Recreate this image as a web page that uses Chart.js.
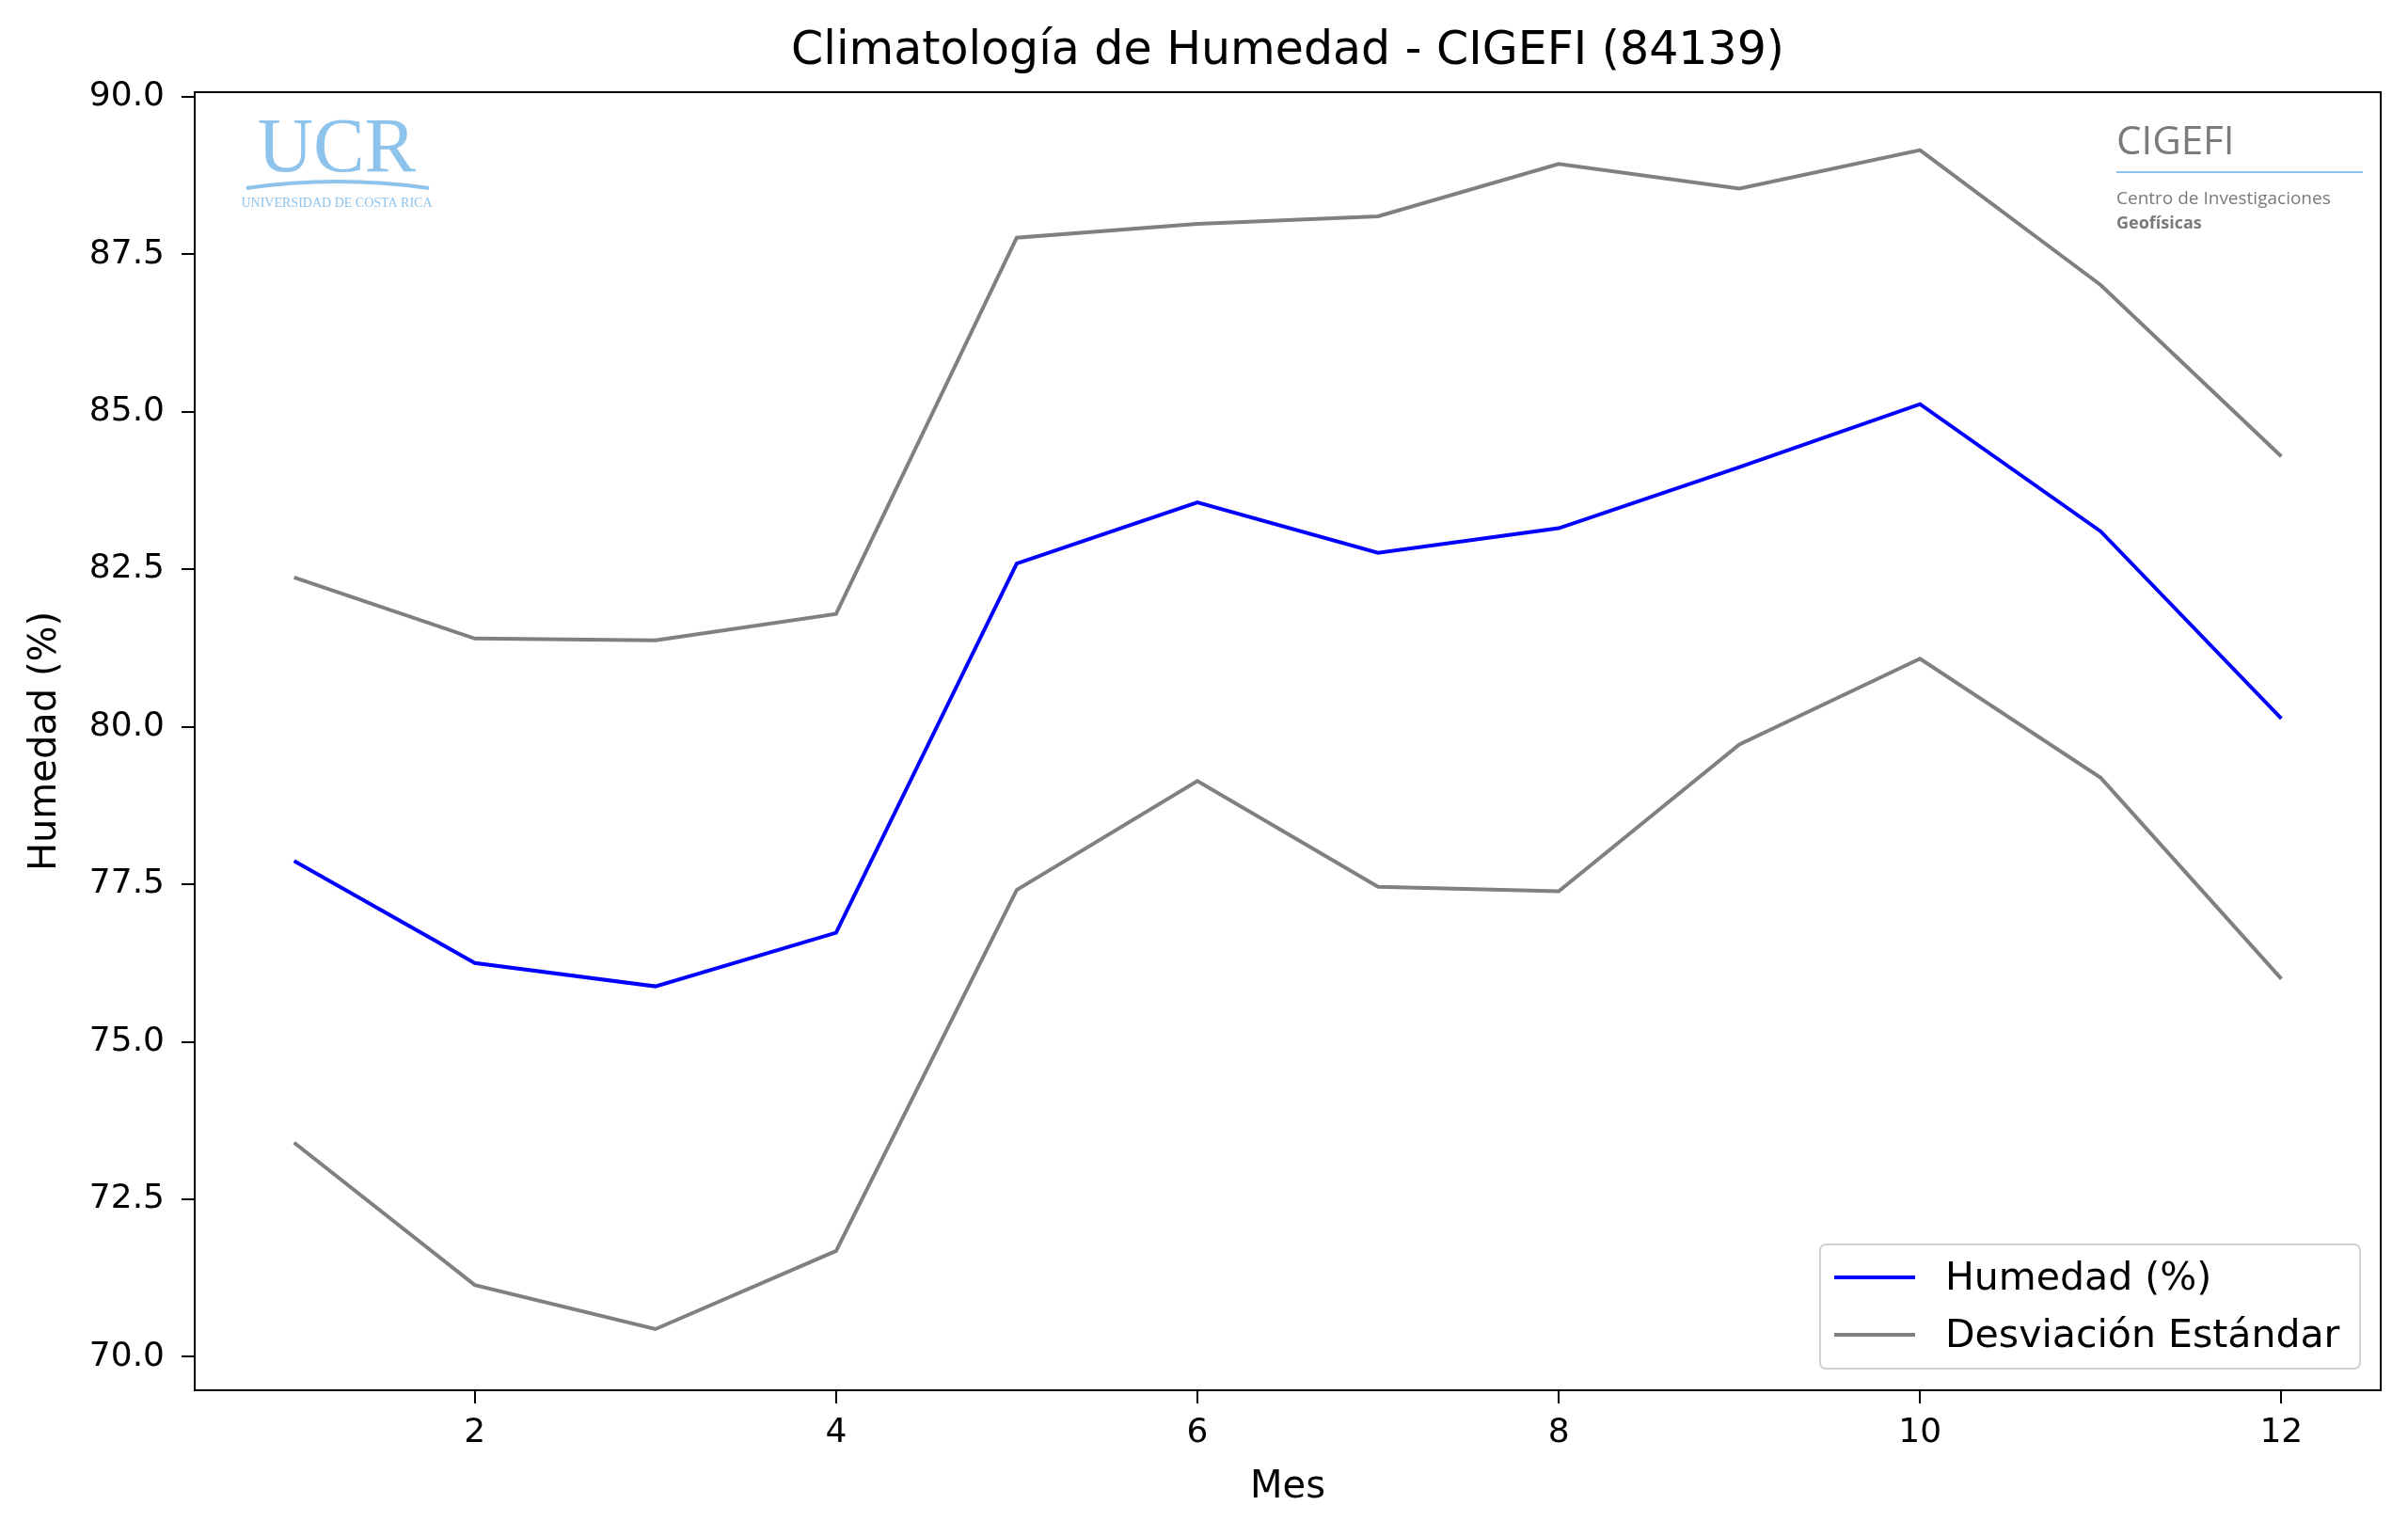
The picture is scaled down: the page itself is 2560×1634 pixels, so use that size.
<!DOCTYPE html>
<html><head><meta charset="utf-8">
<script src="https://cdn.jsdelivr.net/npm/chart.js@4/dist/chart.umd.min.js"></script>
<style>html,body{margin:0;padding:0;background:#fff}#wrap{width:2560px;height:1634px}</style>
</head><body><div id="wrap"><canvas id="c" width="2560" height="1634"></canvas></div>
<script>
const months = [1, 2, 3, 4, 5, 6, 7, 8, 9, 10, 11, 12];
const humedad = [77.87, 76.25, 75.88, 76.73, 82.59, 83.56, 82.76, 83.15, 84.12, 85.12, 83.10, 80.13];
const upperStd = [82.37, 81.40, 81.37, 81.79, 87.76, 87.98, 88.10, 88.93, 88.54, 89.15, 87.01, 84.29];
const lowerStd = [73.40, 71.14, 70.44, 71.68, 77.41, 79.14, 77.46, 77.39, 79.72, 81.08, 79.19, 76.00];
const xTicks = [2, 4, 6, 8, 10, 12];
const yTicks = [70, 72.5, 75, 77.5, 80, 82.5, 85, 87.5, 90];
const legendItems = [["Humedad (%)", "#0000ff"], ["Desviación Estándar", "#808080"]];
const FONT = "'DejaVu Sans', sans-serif";

const pts = (ys) => months.map((m, i) => ({ x: m, y: ys[i] }));

const decor = {
  id: "decor",
  afterDraw(chart) {
    const ctx = chart.ctx, a = chart.chartArea;
    ctx.save();
    ctx.strokeStyle = "#000"; ctx.lineWidth = 2;
    ctx.strokeRect(a.left, a.top, a.right - a.left, a.bottom - a.top);
    // title and axis titles
    ctx.fillStyle = "#000"; ctx.font = "49px " + FONT; ctx.textAlign = "center"; ctx.textBaseline = "alphabetic";
    ctx.fillText("Climatología de Humedad - CIGEFI (84139)", (a.left + a.right) / 2, 68);
    ctx.font = "40px " + FONT; ctx.textBaseline = "middle";
    ctx.fillText("Mes", (a.left + a.right) / 2, 1582);
    ctx.translate(49, (a.top + a.bottom) / 2); ctx.rotate(-Math.PI / 2);
    ctx.fillText("Humedad (%)", 0, 0);
    ctx.setTransform(1, 0, 0, 1, 0, 0);
    ctx.textBaseline = "alphabetic";
    // UCR logo
    ctx.fillStyle = "#8ec3ec"; ctx.font = "82px 'Liberation Serif', serif"; ctx.textAlign = "center";
    ctx.fillText("UCR", 358, 182);
    ctx.strokeStyle = "#8ec3ec"; ctx.lineWidth = 4;
    ctx.beginPath(); ctx.moveTo(262, 200); ctx.quadraticCurveTo(358, 186, 456, 200); ctx.stroke();
    ctx.font = "14px 'Liberation Serif', serif";
    ctx.fillText("UNIVERSIDAD DE COSTA RICA", 358, 220);
    // CIGEFI logo
    ctx.textAlign = "left"; ctx.fillStyle = "#7a7a7a";
    ctx.font = "42px 'Open Sans', sans-serif"; ctx.fillText("CIGEFI", 2250, 164);
    ctx.strokeStyle = "#8ec3ec"; ctx.lineWidth = 2;
    ctx.beginPath(); ctx.moveTo(2250, 183); ctx.lineTo(2512, 183); ctx.stroke();
    ctx.font = "19px 'Open Sans', sans-serif"; ctx.fillText("Centro de Investigaciones", 2250, 217);
    ctx.font = "bold 18px 'Open Sans', sans-serif"; ctx.fillText("Geofísicas", 2250, 243);
    // legend
    const lx = 1935, ly = 1323, lw = 2509 - lx, lh = 1455 - ly;
    ctx.fillStyle = "rgba(255,255,255,0.8)"; ctx.strokeStyle = "#d0d0d0"; ctx.lineWidth = 2;
    ctx.beginPath(); ctx.roundRect(lx, ly, lw, lh, 6); ctx.fill(); ctx.stroke();
    ctx.font = "41px " + FONT; ctx.textBaseline = "middle";
    legendItems.forEach(([label, color], i) => {
      const y = 1358 + i * 61;
      ctx.strokeStyle = color; ctx.lineWidth = 4;
      ctx.beginPath(); ctx.moveTo(1950, y); ctx.lineTo(2036, y); ctx.stroke();
      ctx.fillStyle = "#000"; ctx.fillText(label, 2068, y + 2);
    });
    ctx.restore();
  }
};

const axisCommon = {
  grid: { drawOnChartArea: false, drawTicks: true, tickLength: 14, color: "#000", lineWidth: 2 },
  border: { display: true, color: "#000", width: 2 },
  ticks: { color: "#000", font: { family: FONT, size: 36 }, padding: 18 },
  title: { display: false }
};

new Chart(document.getElementById("c"), {
  type: "line",
  data: {
    datasets: [
      { label: "Humedad (%)", data: pts(humedad), borderColor: "#0000ff", borderWidth: 4, pointRadius: 0, tension: 0 },
      { label: "Desviación Estándar", data: pts(upperStd), borderColor: "#808080", borderWidth: 4, pointRadius: 0, tension: 0 },
      { label: "lower", data: pts(lowerStd), borderColor: "#808080", borderWidth: 4, pointRadius: 0, tension: 0 }
    ]
  },
  plugins: [decor],
  options: {
    responsive: false, animation: false, devicePixelRatio: 1,
    layout: { padding: { top: 98, right: 29, left: 0, bottom: 0 } },
    plugins: { legend: { display: false }, title: { display: false }, tooltip: { enabled: false } },
    scales: {
      x: {
        ...axisCommon, type: "linear", min: 0.45, max: 12.55,
        ticks: { ...axisCommon.ticks, padding: 10 },
        afterBuildTicks: (s) => { s.ticks = xTicks.map((v) => ({ value: v })); },
        afterFit: (s) => { s.height = 156; }
      },
      y: {
        ...axisCommon, type: "linear", min: 69.47, max: 90.07,
        ticks: { ...axisCommon.ticks, callback: (v) => v.toFixed(1) },
        afterBuildTicks: (s) => { s.ticks = yTicks.map((v) => ({ value: v })); },
        afterFit: (s) => { s.width = 207; }
      }
    }
  }
});
</script></body></html>
